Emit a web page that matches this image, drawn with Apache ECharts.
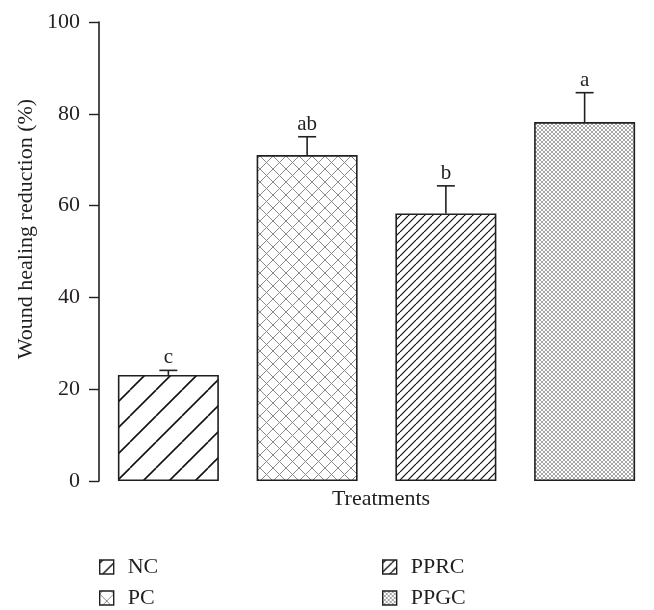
<!DOCTYPE html>
<html>
<head>
<meta charset="utf-8">
<script src="https://cdn.jsdelivr.net/npm/echarts@6/dist/echarts.min.js"></script>
<style>
html,body{margin:0;padding:0;background:#fff;}
#chart{width:654px;height:610px;}
</style>
</head>
<body>
<div id="chart"></div>
<script>
// ---- data ----
const categories = ['NC', 'PC', 'PPRC', 'PPGC'];
const means = [23.1, 71.0, 58.3, 78.2];
const errors = [1.0, 4.0, 6.0, 6.4];
const letters = ['c', 'ab', 'b', 'a'];
const yTicks = [0, 20, 40, 60, 80, 100];

const FONT = '"Liberation Serif", "DejaVu Serif", serif';
const INK = '#231f20';

function makePattern(size, draw, extra) {
  const c = document.createElement('canvas');
  c.width = size; c.height = size;
  const ctx = c.getContext('2d');
  ctx.fillStyle = '#fff';
  ctx.fillRect(0, 0, size, size);
  draw(ctx, size);
  return Object.assign({ image: c, repeat: 'repeat' }, extra || {});
}
function diag(ctx, s, dir) {
  for (let k = -1; k <= 1; k++) {
    ctx.beginPath();
    if (dir > 0) { ctx.moveTo(k * s, s); ctx.lineTo(k * s + s, 0); }
    else { ctx.moveTo(k * s, 0); ctx.lineTo(k * s + s, s); }
    ctx.stroke();
  }
}
const patterns = [
  makePattern(26, (ctx, s) => { ctx.strokeStyle = '#111'; ctx.lineWidth = 1.6; diag(ctx, s, 1); }),
  makePattern(13, (ctx, s) => { ctx.strokeStyle = '#8a8a8a'; ctx.lineWidth = 1; diag(ctx, s, 1); diag(ctx, s, -1); }),
  makePattern(8, (ctx, s) => { ctx.strokeStyle = '#111'; ctx.lineWidth = 1.2; diag(ctx, s, 1); }),
  makePattern(4, (ctx, s) => { ctx.strokeStyle = '#8f8f8f'; ctx.lineWidth = 0.8; diag(ctx, s, 1); diag(ctx, s, -1); })
];
// small tiles for the legend icons
const iconPatterns = [
  makePattern(14, (ctx, s) => { ctx.strokeStyle = '#111'; ctx.lineWidth = 1.4; diag(ctx, s, 1); }, { y: 3 }),
  makePattern(14, (ctx, s) => { ctx.strokeStyle = '#8a8a8a'; ctx.lineWidth = 1; diag(ctx, s, 1); diag(ctx, s, -1); }, { y: 3 }),
  makePattern(9, (ctx, s) => { ctx.strokeStyle = '#111'; ctx.lineWidth = 1.3; diag(ctx, s, 1); }, { y: 3 }),
  makePattern(4, (ctx, s) => { ctx.strokeStyle = '#8f8f8f'; ctx.lineWidth = 0.8; diag(ctx, s, 1); diag(ctx, s, -1); }, { y: 3 })
];

const barSeries = categories.map((name, i) => ({
  name: name,
  type: 'bar',
  barWidth: 101,
  barGap: '-100%',
  data: categories.map((c, j) => (j === i ? means[i] : '-')),
  itemStyle: { color: patterns[i], borderColor: INK, borderWidth: 1.6 },
  emphasis: { disabled: true },
  z: 2
}));

const errSeries = {
  type: 'custom',
  coordinateSystem: 'cartesian2d',
  data: means.map((m, i) => [i, m, errors[i]]),
  z: 5,
  renderItem: function (params, api) {
    const x = api.value(0), v = api.value(1), e = api.value(2);
    const p0 = api.coord([x, v]);
    const p1 = api.coord([x, v + e]);
    const st = { stroke: INK, lineWidth: 1.6 };
    return {
      type: 'group',
      children: [
        { type: 'line', shape: { x1: p0[0], y1: p0[1], x2: p1[0], y2: p1[1] }, style: st },
        { type: 'line', shape: { x1: p1[0] - 9, y1: p1[1], x2: p1[0] + 9, y2: p1[1] }, style: st },
        { type: 'text', style: { text: letters[params.dataIndex], x: p1[0], y: p1[1] - 2,
            align: 'center', verticalAlign: 'bottom', font: '21px ' + FONT, fill: INK } }
      ]
    };
  }
};

// legend: one component per entry, arranged as two columns of two rows
const legendLeft = [99, 99, 382, 382];
const legendTop = [556, 587, 556, 587];
const legends = categories.map((name, i) => ({
  left: legendLeft[i], top: legendTop[i], padding: 0,
  itemWidth: 14, itemHeight: 14, icon: 'rect', selectedMode: false,
  textStyle: { fontFamily: FONT, fontSize: 22, color: INK, lineHeight: 20, padding: [0, 0, 0, 9] },
  data: [{ name: name, itemStyle: { color: iconPatterns[i], borderColor: INK, borderWidth: 1.4 } }]
}));

const chart = echarts.init(document.getElementById('chart'), null, { renderer: 'canvas' });
chart.setOption({
  backgroundColor: '#fff',
  animation: false,
  grid: { left: 99, top: 22, width: 560, height: 459, containLabel: false },
  xAxis: {
    type: 'category',
    data: categories,
    axisLine: { show: false },
    axisTick: { show: false },
    axisLabel: { show: false },
    splitLine: { show: false }
  },
  yAxis: {
    type: 'value',
    min: yTicks[0],
    max: yTicks[yTicks.length - 1],
    interval: 20,
    axisLine: { show: true, lineStyle: { color: INK, width: 1.6 } },
    axisTick: { show: true, length: 10, lineStyle: { color: INK, width: 1.4 } },
    axisLabel: { color: INK, fontFamily: FONT, fontSize: 22, margin: 19 },
    splitLine: { show: false }
  },
  legend: legends,
  graphic: [
    { type: 'text', x: 26, y: 229, rotation: Math.PI / 2,
      style: { text: 'Wound healing reduction (%)', font: '22px ' + FONT, fill: INK, align: 'center', verticalAlign: 'middle' } },
    { type: 'text', x: 381, y: 499,
      style: { text: 'Treatments', font: '22px ' + FONT, fill: INK, align: 'center', verticalAlign: 'middle' } }
  ],
  series: barSeries.concat([errSeries])
});
</script>
</body>
</html>
